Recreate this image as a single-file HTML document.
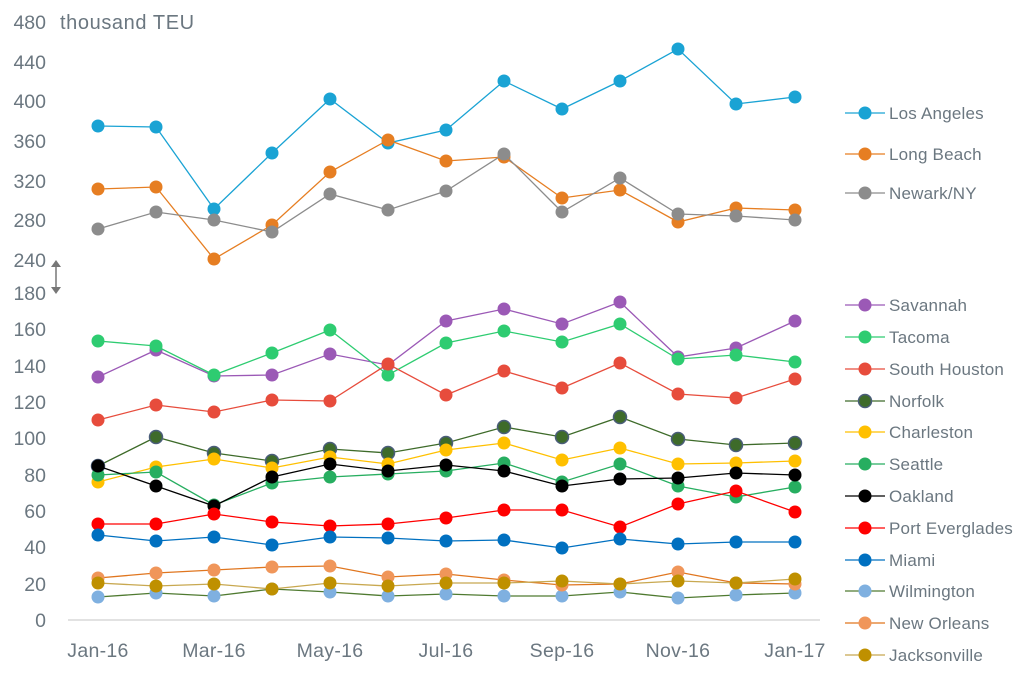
<!DOCTYPE html>
<html><head><style>
body{margin:0;background:#fff}
svg text{font-family:"Liberation Sans",sans-serif;fill:#6b7780}
</style></head><body>
<svg width="1013" height="673" xmlns="http://www.w3.org/2000/svg">
<g font-size="19.5" text-anchor="end">
<text x="46" y="29">480</text><text x="46" y="69">440</text><text x="46" y="108">400</text><text x="46" y="148">360</text><text x="46" y="188">320</text><text x="46" y="227">280</text><text x="46" y="267">240</text>
<text x="46" y="300">180</text><text x="46" y="336">160</text><text x="46" y="373">140</text><text x="46" y="409">120</text><text x="46" y="445">100</text><text x="46" y="482">80</text><text x="46" y="518">60</text><text x="46" y="554">40</text><text x="46" y="591">20</text><text x="46" y="627">0</text>
</g>
<text x="60" y="29" font-size="20" letter-spacing="0.6">thousand TEU</text>
<g stroke="#777" stroke-width="1.5" fill="#777"><line x1="56" y1="264" x2="56" y2="290"/><path d="M51 267 L56 260 L61 267Z M51 287 L56 294 L61 287Z" stroke="none"/></g>
<line x1="68" y1="620" x2="820" y2="620" stroke="#d9d9d9" stroke-width="1.5"/>
<g font-size="19.5" text-anchor="middle" letter-spacing="0.3">
<text x="98" y="657">Jan-16</text><text x="214" y="657">Mar-16</text><text x="330" y="657">May-16</text><text x="446" y="657">Jul-16</text><text x="562" y="657">Sep-16</text><text x="678" y="657">Nov-16</text><text x="795" y="657">Jan-17</text>
</g>
<g id="series"></g>
<g id="legend" font-size="17" letter-spacing="0.2"></g>
</svg>
<script>
const X=[98,156,214,272,330,388,446,504,562,620,678,736,795];
const S=[
["Los Angeles","#1aa3d4","#1aa3d4",[126,127,209,153,99,143,130,81,109,81,49,104,97],113],
["Long Beach","#e67e22","#e67e22",[189,187,259,225,172,140,161,157,198,190,222,208,210],154],
["Newark/NY","#8c8c8c","#8c8c8c",[229,212,220,232,194,210,191,154,212,178,214,216,220],193],
["Savannah","#9b59b6","#9b59b6",[377,350,376,375,354,365,321,309,324,302,357,348,321],305],
["Tacoma","#2ecc71","#2ecc71",[341,346,375,353,330,375,343,331,342,324,359,355,362],337],
["South Houston","#e74c3c","#e74c3c",[420,405,412,400,401,364,395,371,388,363,394,398,379],369],
["Norfolk","#3e6b2a","#4a5d7a",[466,437,453,461,449,453,443,427,437,417,439,445,443],401],
["Charleston","#ffc000","#ffc000",[482,467,459,468,457,464,450,443,460,448,464,463,461],432],
["Seattle","#27ae60","#27ae60",[475,472,505,483,477,474,471,463,482,464,486,497,487],464],
["Oakland","#000000","#000000",[466,486,506,477,464,471,465,471,486,479,478,473,475],496],
["Port Everglades","#ff0000","#ff0000",[524,524,514,522,526,524,518,510,510,527,504,491,512],528],
["Miami","#0070c0","#0070c0",[535,541,537,545,537,538,541,540,548,539,544,542,542],560],
["Wilmington","#4f7a30","#7fb0e0",[597,593,596,589,592,596,594,596,596,592,598,595,593],591],
["New Orleans","#e0761f","#f0965a",[578,573,570,567,566,577,574,580,585,584,572,583,584],623],
["Jacksonville","#c8a850","#bf9000",[583,586,584,589,583,586,583,583,581,584,581,583,579],655]];
let g="",l="";
for(const [n,lc,mc,Y,ly] of S){
 g+=`<polyline fill="none" stroke="${lc}" stroke-width="1.3" points="${Y.map((y,i)=>X[i]+","+y).join(" ")}"/>`;
 const stroke=n=="Norfolk"?' stroke="#4a5d7a" stroke-width="1.5"':'';
 const fill=n=="Norfolk"?"#3e6b2a":mc;
 Y.forEach((y,i)=>g+=`<circle cx="${X[i]}" cy="${y}" r="6.5" fill="${fill}"${stroke}/>`);
 l+=`<line x1="845" y1="${ly}" x2="885" y2="${ly}" stroke="${lc}" stroke-width="1.3"/><circle cx="865" cy="${ly}" r="6.5" fill="${fill}"${stroke}/><text x="889" y="${ly+6}">${n}</text>`;
}
document.getElementById("series").innerHTML=g;
document.getElementById("legend").innerHTML=l;
</script>
</body></html>
